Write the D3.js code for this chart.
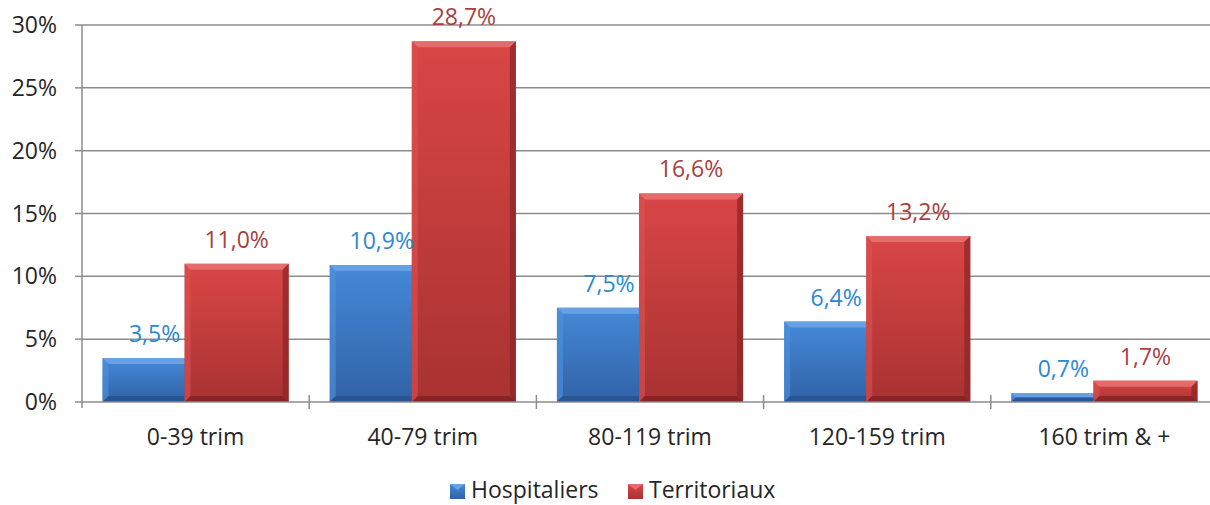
<!DOCTYPE html>
<html>
<head>
<meta charset="utf-8">
<script src="https://cdn.jsdelivr.net/npm/d3@7"></script>
<style>
  html, body { margin: 0; padding: 0; background: #ffffff; }
  svg { display: block; font-family: "Open Sans", "Noto Sans", sans-serif; }
</style>
</head>
<body>
<svg id="chart" width="1210" height="505"></svg>
<script>
const categories = ["0-39 trim", "40-79 trim", "80-119 trim", "120-159 trim", "160 trim & +"];
const seriesNames = ["Hospitaliers", "Territoriaux"];
const hospitaliers = [3.5, 10.9, 7.5, 6.4, 0.7];
const territoriaux = [11.0, 28.7, 16.6, 13.2, 1.7];
const yTicks = [0, 5, 10, 15, 20, 25, 30];

const svg = d3.select("#chart");
const mLeft = 82, mRight = 1218, mTop = 25, mBottom = 402;

const x = d3.scaleBand().domain(categories).range([mLeft, mRight]).paddingInner(0).paddingOuter(0);
const y = d3.scaleLinear().domain([0, 30]).range([mBottom, mTop]);

const fmt = v => d3.format(".1f")(v).replace(".", ",") + "%";

const defs = svg.append("defs");
function grad(id, c1, c2) {
  const g = defs.append("linearGradient").attr("id", id).attr("x1", 0).attr("y1", 0).attr("x2", 0).attr("y2", 1);
  g.append("stop").attr("offset", "0%").attr("stop-color", c1);
  g.append("stop").attr("offset", "100%").attr("stop-color", c2);
}
grad("gBlue", "#4589d8", "#3162a6");
grad("gRed", "#d94646", "#a93232");

const styles = [
  { fill: "url(#gBlue)", topC: "#6ea5e6", leftC: "#4f92de", rightC: "#2b5a9c", botC: "#264f8a", label: "#2d88d2" },
  { fill: "url(#gRed)", topC: "#e97272", leftC: "#dc5252", rightC: "#8e2626", botC: "#7e2020", label: "#a8403f" }
];

// gridlines
const grid = svg.append("g");
grid.selectAll("line").data(yTicks.filter(t => t > 0)).join("line")
  .attr("x1", mLeft).attr("x2", mRight)
  .attr("y1", d => y(d)).attr("y2", d => y(d))
  .attr("stroke", "#8c8c8c").attr("stroke-width", 1.5);

// bars
const bw = x.bandwidth();
const groupW = bw * 186 / 227;
const barW = bw * 104 / 227;
const data = [hospitaliers, territoriaux];

function bar(g, x0, v, st) {
  const y0 = y(v), h = mBottom - y0, w = barW;
  const b = Math.min(6, h / 2);
  g.append("rect").attr("x", x0).attr("y", y0).attr("width", w).attr("height", h).attr("fill", st.fill);
  const x1 = x0 + w, y1 = mBottom;
  const poly = (pts, c, op) => g.append("polygon").attr("points", pts.map(p => p.join(",")).join(" ")).attr("fill", c).attr("opacity", op);
  poly([[x0, y0], [x1, y0], [x1 - b, y0 + b], [x0 + b, y0 + b]], st.topC, 0.85);
  poly([[x0, y0], [x0 + b, y0 + b], [x0 + b, y1 - b], [x0, y1]], st.leftC, 0.6);
  poly([[x1, y0], [x1, y1], [x1 - b, y1 - b], [x1 - b, y0 + b]], st.rightC, 0.75);
  poly([[x0, y1], [x0 + b, y1 - b], [x1 - b, y1 - b], [x1, y1]], st.botC, 0.75);
}

const barsG = svg.append("g");
const labelsG = svg.append("g");
categories.forEach((c, i) => {
  const gs = x(c) + (bw - groupW) / 2;
  const xs = [gs, gs + groupW - barW];
  data.forEach((arr, s) => {
    bar(barsG, xs[s], arr[i], styles[s]);
    labelsG.append("text")
      .attr("x", xs[s] + barW / 2).attr("y", y(arr[i]) - 16)
      .attr("text-anchor", "middle").attr("font-size", 23)
      .attr("fill", styles[s].label).text(fmt(arr[i]));
  });
});

// axes
const axG = svg.append("g").attr("stroke", "#8c8c8c").attr("stroke-width", 1.5);
axG.append("line").attr("x1", mLeft).attr("x2", mLeft).attr("y1", mTop).attr("y2", mBottom + 6);
axG.append("line").attr("x1", mLeft).attr("x2", mRight).attr("y1", mBottom).attr("y2", mBottom);
axG.selectAll("line.yt").data(yTicks).join("line").attr("class", "yt")
  .attr("x1", mLeft - 7).attr("x2", mLeft).attr("y1", d => y(d)).attr("y2", d => y(d));
const bounds = categories.map(c => x(c)).concat([mRight]).slice(1);
axG.selectAll("line.xt").data(bounds).join("line").attr("class", "xt")
  .attr("x1", d => d).attr("x2", d => d).attr("y1", mBottom - 7).attr("y2", mBottom + 7);

svg.append("g").selectAll("text").data(yTicks).join("text")
  .attr("x", 57).attr("y", d => y(d) + 8)
  .attr("text-anchor", "end").attr("font-size", 23).attr("fill", "#262626")
  .text(d => d + "%");

svg.append("g").selectAll("text").data(categories).join("text")
  .attr("x", d => x(d) + bw / 2).attr("y", 445)
  .attr("text-anchor", "middle").attr("font-size", 23).attr("fill", "#262626")
  .text(d => d);

// legend
const legendX = [450, 628];
const lg = svg.append("g");
seriesNames.forEach((n, s) => {
  const sq = lg.append("g");
  sq.append("rect").attr("x", legendX[s]).attr("y", 484).attr("width", 15).attr("height", 15).attr("fill", styles[s].fill);
  sq.append("polygon").attr("points", `${legendX[s]},484 ${legendX[s] + 15},484 ${legendX[s] + 7.5},490`).attr("fill", styles[s].topC).attr("opacity", 0.9);
  lg.append("text").attr("x", legendX[s] + 21).attr("y", 498)
    .attr("font-size", 23).attr("fill", "#262626").text(n);
});
</script>
</body>
</html>
